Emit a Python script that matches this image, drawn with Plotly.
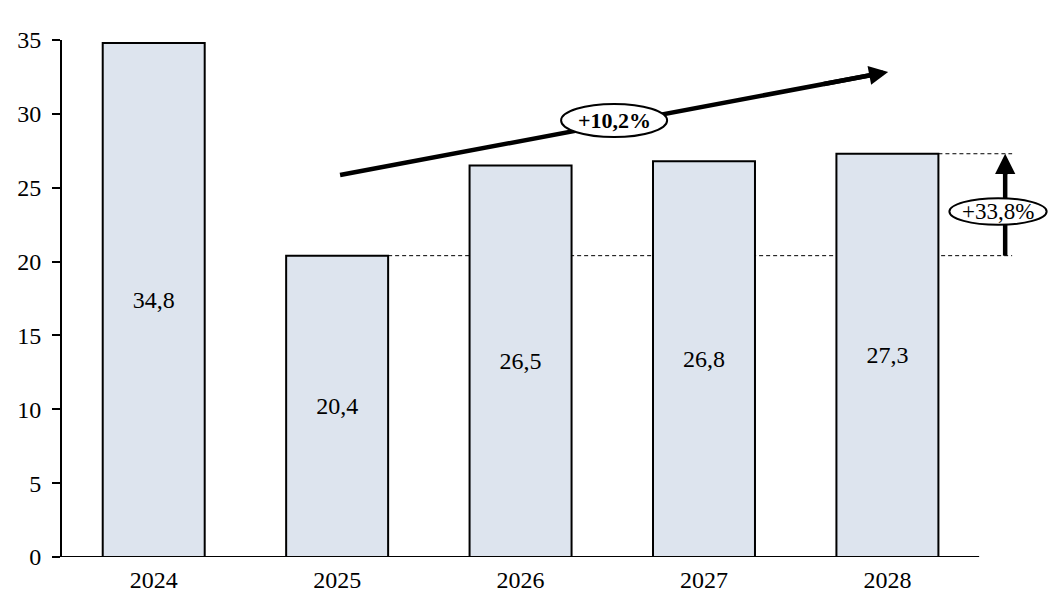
import plotly.graph_objects as go

years = ["2024", "2025", "2026", "2027", "2028"]
values = [34.8, 20.4, 26.5, 26.8, 27.3]
value_labels = ["34,8", "20,4", "26,5", "26,8", "27,3"]
y_ticks = [0, 5, 10, 15, 20, 25, 30, 35]

trend_label = "+10,2%"
trend_start = (1.016, 25.86)
trend_end = (4.004, 32.84)
trend_box = (2.51, 29.55)
growth_label = "+33,8%"
growth_x = 4.642
growth_box = (4.603, 23.39)
dash_end_x = 4.68

FONT = "Liberation Serif"
BAR_FILL = "#dde4ee"
xpos = list(range(len(years)))
bar_w = 0.556

fig = go.Figure()
fig.add_trace(go.Bar(
    x=xpos, y=values, width=bar_w,
    marker=dict(color=BAR_FILL, line=dict(color="black", width=2)),
    text=value_labels, textposition="inside", insidetextanchor="middle",
    textfont=dict(family=FONT, size=24, color="black"),
    hoverinfo="skip", showlegend=False,
))

slope = (trend_end[1] - trend_start[1]) / (trend_end[0] - trend_start[0])
fig.add_trace(go.Scatter(
    x=[trend_start[0], trend_end[0] - 0.06], y=[trend_start[1], trend_end[1] - 0.06 * slope],
    mode="lines", line=dict(color="black", width=4.5),
    cliponaxis=False, hoverinfo="skip", showlegend=False,
))
fig.add_trace(go.Scatter(
    x=[growth_x, growth_x], y=[values[1], values[4] - 0.8],
    mode="lines", line=dict(color="black", width=4.5),
    cliponaxis=False, hoverinfo="skip", showlegend=False,
))

shapes = []
for i in (1, 4):
    shapes.append(dict(type="line", xref="x", yref="y",
                       x0=xpos[i] + bar_w / 2, x1=dash_end_x, y0=values[i], y1=values[i],
                       line=dict(color="black", width=1, dash="4px,3px"), layer="below"))
shapes.append(dict(type="line", xref="x", yref="y", x0=-0.5, x1=4.5, y0=0, y1=0,
                   line=dict(color="black", width=2), layer="above"))
shapes.append(dict(type="circle", xref="x", yref="y",
                   x0=trend_box[0] - 0.289, x1=trend_box[0] + 0.289,
                   y0=trend_box[1] - 1.12, y1=trend_box[1] + 1.12,
                   fillcolor="white", line=dict(color="black", width=2), layer="above"))
shapes.append(dict(type="circle", xref="x", yref="y",
                   x0=growth_box[0] - 0.265, x1=growth_box[0] + 0.265,
                   y0=growth_box[1] - 0.9, y1=growth_box[1] + 0.9,
                   fillcolor="white", line=dict(color="black", width=2), layer="above"))

head_frac = 0.12
annotations = [
    dict(x=trend_end[0], y=trend_end[1], xref="x", yref="y", axref="x", ayref="y",
         ax=trend_end[0] - head_frac * (trend_end[0] - trend_start[0]),
         ay=trend_end[1] - head_frac * (trend_end[1] - trend_start[1]),
         text="", showarrow=True, arrowhead=2, arrowsize=0.85, arrowwidth=4.5, arrowcolor="black"),
    dict(x=growth_x, y=values[4], xref="x", yref="y", axref="x", ayref="y",
         ax=growth_x, ay=values[4] - 1.5,
         text="", showarrow=True, arrowhead=2, arrowsize=0.9, arrowwidth=4.5, arrowcolor="black"),
    dict(x=trend_box[0], y=trend_box[1], xref="x", yref="y", text="<b>" + trend_label + "</b>",
         showarrow=False, font=dict(family=FONT, size=22, color="black")),
    dict(x=growth_box[0], y=growth_box[1], xref="x", yref="y", text=growth_label,
         showarrow=False, font=dict(family=FONT, size=23, color="black")),
]

fig.update_layout(
    width=1050, height=588,
    margin=dict(l=54, r=0, t=32, b=39),
    plot_bgcolor="white", paper_bgcolor="white",
    font=dict(family=FONT, size=24, color="black"),
    shapes=shapes, annotations=annotations,
    xaxis=dict(range=[-0.5, 4.93], tickvals=xpos, ticktext=years, showgrid=False,
               zeroline=False, showline=False, ticks="", ticklabelstandoff=6,
               tickfont=dict(family=FONT, size=24, color="black"), fixedrange=True),
    yaxis=dict(range=[0, 35], tickvals=y_ticks, showgrid=False, zeroline=False,
               showline=True, linecolor="black", linewidth=2,
               ticks="outside", ticklen=8, tickwidth=2, tickcolor="black",
               ticklabelstandoff=6,
               tickfont=dict(family=FONT, size=24, color="black"), fixedrange=True),
    showlegend=False,
)

fig.write_html("out.html")
